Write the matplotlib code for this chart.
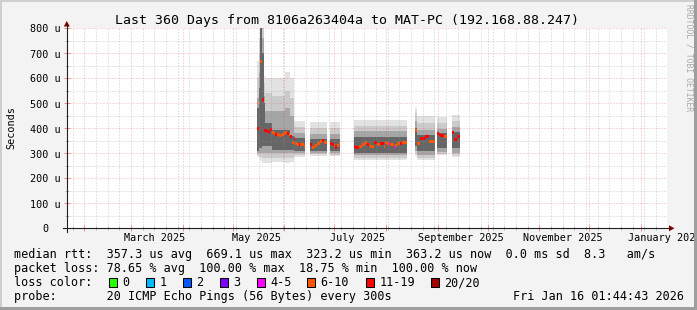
import datetime as dt
import matplotlib
matplotlib.use('Agg')
import matplotlib.pyplot as plt
from matplotlib.patches import Rectangle, Polygon
from matplotlib.lines import Line2D
from matplotlib.colors import to_rgba

# ---------------------------------------------------------------- data
W, H = 697, 310
t0 = dt.datetime(2025, 1, 21, 14, 0)      # left edge of the graph
span = 360                                 # days shown

title = 'Last 360 Days from 8106a263404a to MAT-PC (192.168.88.247)'

# smoke segments (day offsets from t0) and their ping distribution (us)
seg_start = [114, 115, 116, 117, 118, 119, 123, 131, 134, 136, 146, 158, 172, 209, 210, 222, 231]
seg_end   = [115, 116, 117, 118, 119, 123, 131, 134, 136, 143, 156, 164, 204, 210, 221, 228, 236]
s_min  = [285, 280, 270, 262, 262, 262, 266, 262, 266, 287, 291, 289, 273, 290, 273, 293, 287]
s_q10  = [292, 290, 285, 280, 280, 282, 282, 280, 282, 293, 296, 294, 282, 300, 283, 298, 293]
s_q25  = [300, 300, 300, 300, 300, 302, 300, 300, 300, 300, 302, 300, 292, 310, 295, 305, 302]
s_clo  = [310, 320, 320, 330, 330, 330, 315, 315, 312, 308, 310, 308, 302, 330, 310, 320, 320]
s_chi  = [480, 560, 800, 700, 500, 420, 395, 395, 370, 362, 358, 356, 365, 400, 372, 380, 385]
s_q75  = [520, 620, 800, 760, 530, 470, 470, 480, 450, 380, 378, 378, 388, 430, 393, 398, 405]
s_q90  = [600, 700, 800, 800, 580, 540, 530, 550, 520, 405, 403, 403, 410, 460, 420, 420, 430]
s_max  = [670, 760, 800, 800, 610, 600, 600, 626, 600, 430, 427, 427, 433, 480, 449, 445, 455]

# median rtt per day (us) and loss class of that day
med_day = [114, 115, 116, 117, 118, 119, 120, 121, 122,
           123, 124, 125, 126, 127, 128, 129, 130, 131, 132, 133, 134, 135,
           136, 137, 138, 139, 140, 141, 142,
           146, 147, 148, 149, 150, 151, 152, 153, 154, 155,
           158, 159, 160, 161, 162, 163,
           172, 173, 174, 175, 176, 177, 178, 179, 180, 181, 182, 183, 184, 185, 186, 187,
           188, 189, 190, 191, 192, 193, 194, 195, 196, 197, 198, 199, 200, 201, 202, 203,
           209, 210, 211, 212, 213, 214, 215, 216, 217, 218, 219, 220,
           222, 223, 224, 225, 226, 227,
           231, 232, 233, 234, 235]
median = [400, 504, 669, 514, 390, 390, 386, 384, 396,
          382, 380, 377, 376, 372, 373, 377, 378, 384, 378, 377, 369, 344,
          360, 338, 336, 336, 334, 336, 327,
          336, 324, 326, 333, 340, 341, 347, 353, 345, 345,
          338, 336, 333, 324, 330, 338,
          326, 325, 324, 329, 329, 337, 337, 344, 335, 335, 327, 327, 343, 343, 337, 337,
          340, 340, 329, 344, 340, 340, 335, 335, 324, 330, 340, 340, 340, 344, 344, 344,
          390, 340, 340, 360, 359, 359, 367, 367, 347, 347, 347, 347,
          380, 376, 373, 373, 369, 367,
          383, 356, 356, 367, 367]
loss = ['11-19', '6-10', '6-10', '11-19', '11-19', '11-19', '11-19', '11-19', '11-19',
        '6-10', '6-10', '11-19', '6-10', '6-10', '6-10', '6-10', '6-10', '6-10', '11-19', '6-10', '11-19', '6-10',
        '11-19', '6-10', '6-10', '11-19', '6-10', '6-10', '6-10',
        '11-19', '6-10', '6-10', '6-10', '6-10', '6-10', '6-10', '11-19', '6-10', '6-10',
        '11-19', '11-19', '6-10', '11-19', '6-10', '6-10',
        '11-19', '11-19', '11-19', '6-10', '6-10', '6-10', '6-10', '6-10', '11-19', '6-10', '6-10', '6-10',
        '11-19', '11-19', '6-10', '6-10',
        '11-19', '11-19', '6-10', '6-10', '6-10', '4-5', '6-10', '6-10', '4-5', '6-10', '6-10', '6-10',
        '11-19', '6-10', '6-10', '6-10',
        '6-10', '6-10', '6-10', '11-19', '11-19', '11-19', '11-19', '11-19', '6-10', '6-10', '6-10', '6-10',
        '11-19', '11-19', '11-19', '11-19', '6-10', '6-10',
        '11-19', '11-19', '11-19', '11-19', '11-19']

loss_names  = ['0', '1', '2', '3', '4-5', '6-10', '11-19', '20/20']
loss_colors = ['#26ff00', '#00b8ff', '#0059ff', '#7e00ff', '#ff00ff', '#ff5500', '#ff0000', '#a00000']
loss_box_x  = [108.7, 145.7, 182.7, 219.7, 256.7, 307.0, 365.7, 430.7]

y_ticks  = [0, 100, 200, 300, 400, 500, 600, 700, 800]
y_labels = ['0', '100 u', '200 u', '300 u', '400 u', '500 u', '600 u', '700 u', '800 u']

row_rtt   = 'median rtt:  357.3 us avg  669.1 us max  323.2 us min  363.2 us now  0.0 ms sd  8.3   am/s'
row_loss  = 'packet loss: 78.65 % avg  100.00 % max  18.75 % min  100.00 % now'
row_color = 'loss color:'
row_probe = 'probe:       20 ICMP Echo Pings (56 Bytes) every 300s'
stamp     = 'Fri Jan 16 01:44:43 2026'

# ---------------------------------------------------------------- helpers
MONO = 'DejaVu Sans Mono'


def fx(px):
    return px / W


def fy(py):
    return 1 - py / H


def day_of(d):
    return (d - t0).total_seconds() / 86400.0


months = []
y, m = 2025, 2
while True:
    d = dt.datetime(y, m, 1)
    if day_of(d) > span:
        break
    months.append(day_of(d))
    m += 1
    if m > 12:
        m, y = 1, y + 1

weeks = []
d = dt.datetime(2025, 1, 25)
while day_of(d) <= span:
    weeks.append(day_of(d))
    d += dt.timedelta(days=7)

label_dates = [dt.datetime(2025, 3, 15), dt.datetime(2025, 5, 15), dt.datetime(2025, 7, 15),
               dt.datetime(2025, 9, 15), dt.datetime(2025, 11, 15), dt.datetime(2026, 1, 15)]

# ---------------------------------------------------------------- figure
fig = plt.figure(figsize=(W / 100, H / 100), dpi=100, facecolor='#f3f3f3')
ax = fig.add_axes([fx(67), fy(228.3), 600 / W, 200 / H])
ax.set_facecolor('white')
ax.set_xlim(0, span)
ax.set_ylim(0, 800)
for s in ax.spines.values():
    s.set_visible(False)

# smoke, from outer to inner
widths = [e - s for s, e in zip(seg_start, seg_end)]
layers = [(s_min, s_max, '#e2e2e2'), (s_q10, s_q90, '#cbcbcb'),
          (s_q25, s_q75, '#a6a6a6'), (s_clo, s_chi, '#666666')]
for i, (lo, hi, c) in enumerate(layers):
    ax.bar(seg_start, [b - a for a, b in zip(lo, hi)], bottom=lo, width=widths,
           align='edge', color=c, linewidth=0, zorder=1 + i * 0.1)

# median markers coloured by loss
for name, col in zip(loss_names, loss_colors):
    xs = [d for d, l in zip(med_day, loss) if l == name]
    ms = [v for v, l in zip(median, loss) if l == name]
    if xs:
        ax.bar(xs, 12, bottom=[v - 6 for v in ms], width=1, align='edge',
               color=col, linewidth=0, zorder=1.6, antialiased=False)

# grid
ax.set_xticks(months)
ax.set_xticks(weeks, minor=True)
ax.set_yticks(y_ticks)
ax.set_yticks([v + 50 for v in y_ticks[:-1]], minor=True)
ax.set_axisbelow(False)
dots = (0, (1, 2))
ax.grid(which='major', color='#DE5050', alpha=0.45, lw=0.72, ls=dots)
ax.grid(which='minor', color='#8F8F8F', alpha=0.45, lw=0.72, ls=dots)
ax.tick_params(which='major', direction='inout', length=4, width=0.72,
               color=to_rgba('#DE5050', 0.6), labelbottom=False, labelleft=False)
ax.tick_params(which='minor', direction='inout', length=3, width=0.72,
               color=to_rgba('#8F8F8F', 0.6))

# axis labels
for v, lab in zip(y_ticks, y_labels):
    fig.text(fx(45), fy(228.3 - v / 4 + 4.2), lab, ha='center', va='baseline',
             family=MONO, fontsize=7.3)
for d in label_dates:
    ax.text(day_of(d), -12.7 / 200, d.strftime('%B %Y'), transform=ax.get_xaxis_transform(),
            ha='center', va='baseline', family=MONO, fontsize=7.3, clip_on=False)

fig.text(fx(11), fy(128), 'Seconds', rotation=90, ha='center', va='center',
         family=MONO, fontsize=7.3)
fig.text(fx(347), fy(24), title, ha='center', va='baseline', family=MONO, fontsize=9.5)
fig.text(fx(689), fy(58), 'RRDTOOL / TOBI OETIKER', rotation=270, ha='center', va='center',
         family=MONO, fontsize=5.8, color='#a8a8a8')

# axes with arrows
axis_col = '#202020'
fig.add_artist(Line2D([fx(63), fx(670)], [fy(228.3), fy(228.3)], color=axis_col, lw=0.8))
fig.add_artist(Line2D([fx(66.8), fx(66.8)], [fy(232), fy(25)], color=axis_col, lw=0.8))
fig.add_artist(Polygon([(fx(669), fy(225.3)), (fx(674.5), fy(228.3)), (fx(669), fy(231.3))],
                       closed=True, transform=fig.transFigure, color='#7F0000', lw=0))
fig.add_artist(Polygon([(fx(63.8), fy(26.5)), (fx(66.8), fy(21)), (fx(69.8), fy(26.5))],
                       closed=True, transform=fig.transFigure, color='#7F0000', lw=0))

# legend
fs = 8.5
fig.text(fx(14.5), fy(258.3), row_rtt, ha='left', va='baseline', family=MONO, fontsize=fs)
fig.text(fx(14.5), fy(272.3), row_loss, ha='left', va='baseline', family=MONO, fontsize=fs)
fig.text(fx(14.5), fy(286.3), row_color, ha='left', va='baseline', family=MONO, fontsize=fs)
fig.text(fx(14.5), fy(300.3), row_probe, ha='left', va='baseline', family=MONO, fontsize=fs)
fig.text(fx(684), fy(300.3), stamp, ha='right', va='baseline', family=MONO, fontsize=fs)
for bx, name, col in zip(loss_box_x, loss_names, loss_colors):
    fig.add_artist(Rectangle((fx(bx), fy(286.5)), 8 / W, 8.5 / H, transform=fig.transFigure,
                             facecolor=col, edgecolor='black', lw=0.75))
    fig.text(fx(bx + 13.5), fy(286.3), name, ha='left', va='baseline', family=MONO, fontsize=fs)

# 3d frame around the image
fig.add_artist(Rectangle((0, fy(2)), 1, 2 / H, transform=fig.transFigure, color='#cfcfcf', lw=0))
fig.add_artist(Rectangle((0, 0), 2 / W, 1, transform=fig.transFigure, color='#cfcfcf', lw=0))
fig.add_artist(Rectangle((0, 0), 1, 3 / H, transform=fig.transFigure, color='#9e9e9e', lw=0))
fig.add_artist(Rectangle((fx(694), 0), 3 / W, 1, transform=fig.transFigure, color='#9e9e9e', lw=0))

fig.savefig('out.png', dpi=100, facecolor=fig.get_facecolor())
